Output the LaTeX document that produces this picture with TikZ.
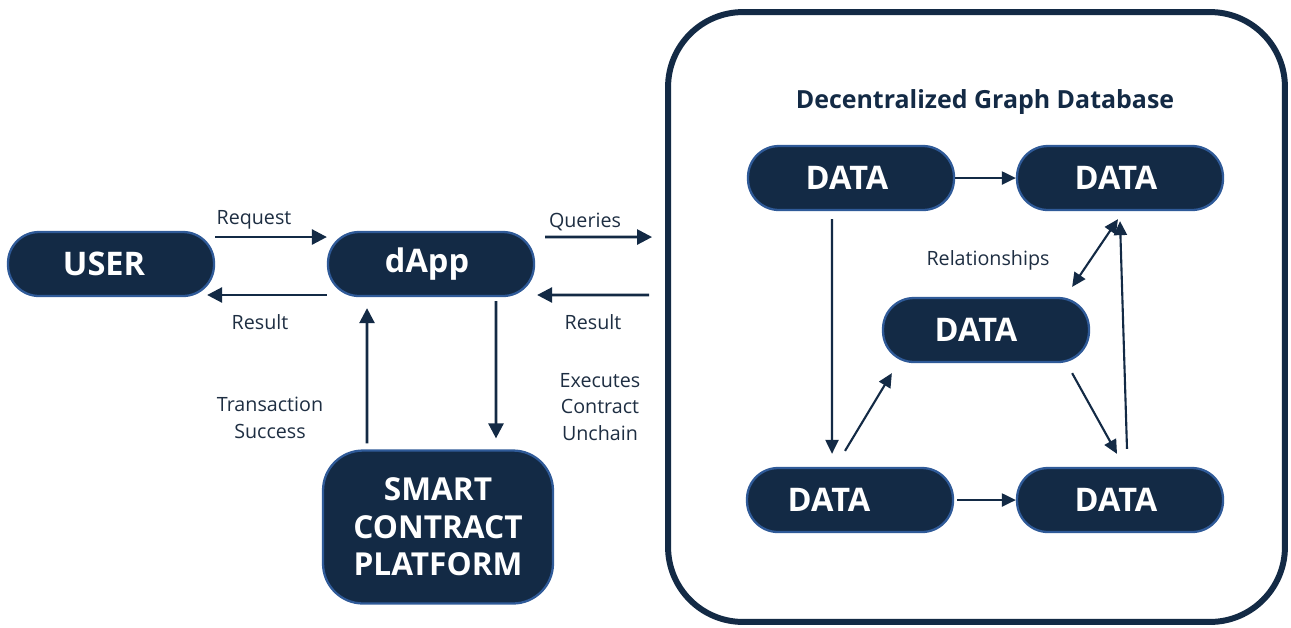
\documentclass[tikz,border=0pt]{standalone}
\usepackage{fontspec}
\setmainfont{Open Sans}
\usetikzlibrary{arrows.meta}
\definecolor{navy}{HTML}{132A45}
\definecolor{rim}{HTML}{2F5A98}
\definecolor{ink}{HTML}{1E2E42}
\begin{document}
\begin{tikzpicture}[x=0.02cm,y=-0.02cm,
    pill/.style={draw=rim,fill=navy,line width=1.3pt,rounded corners=0.62cm,
        minimum width=4.12cm,minimum height=1.28cm,text=white,
        font=\fontsize{18.5}{22}\selectfont\bfseries},
    lbl/.style={text=ink,font=\fontsize{11.2}{15}\selectfont,align=center},
    flow/.style={draw=navy,line width=1.5pt,-{Triangle[length=0.3cm,width=0.3cm]}},
    link/.style={draw=navy,line width=1.2pt,-{Triangle[length=0.28cm,width=0.26cm]}}]
    \useasboundingbox (0,0) rectangle (1291,627);
    % left part
    \node[pill] (user) at (111,264) {USER\kern0.28cm};
    \node[pill] (dapp) at (431,264) {dApp\kern0.16cm};
    \node[pill,minimum width=4.6cm,minimum height=3.06cm,rounded corners=0.8cm,
        align=center,font=\fontsize{18}{21.3}\selectfont\bfseries] (smart) at (438,527)
        {SMART\\CONTRACT\\PLATFORM};
    % database frame
    \node[draw=navy,fill=white,line width=3.4pt,rounded corners=1.5cm,
        minimum width=12.34cm,minimum height=12.2cm] (gdb) at (976.5,317) {};
    \node[text=navy,font=\fontsize{14.2}{17}\selectfont\bfseries] (title) at (985,102)
        {Decentralized Graph Database};
    \node[pill] (d1) at (851,178) {DATA\kern0.16cm};
    \node[pill] (d2) at (1120,178) {DATA\kern0.16cm};
    \node[pill] (d3) at (986,330) {DATA\kern0.4cm};
    \node[pill] (d4) at (850,500) {DATA\kern0.84cm};
    \node[pill] (d5) at (1120,500) {DATA\kern0.16cm};
    % labels
    \node[lbl] (req) at (254,220) {Request};
    \node[lbl] (res1) at (260,322) {Result};
    \node[lbl] (qry) at (585,222) {Queries};
    \node[lbl] (res2) at (593,322) {Result};
    \node[lbl] (trans) at (270,418) {Transaction\\Success};
    \node[lbl] (exec) at (600,407) {Executes\\Contract\\Unchain};
    \node[lbl] (rel) at (988,260) {Relationships};
    % arrows
    \draw[flow] ([yshift=0.54cm]user.east) -- ([yshift=0.54cm]dapp.west);
    \draw[flow] ([yshift=-0.62cm]dapp.west) -- ([xshift=-0.16cm,yshift=-0.62cm]user.east);
    \draw[flow] ([xshift=0.2cm,yshift=0.54cm]dapp.east) -- ([xshift=-0.26cm,yshift=1.6cm]gdb.west);
    \draw[flow] ([xshift=-0.32cm,yshift=0.44cm]gdb.west) -- ([xshift=0.04cm,yshift=-0.62cm]dapp.east);
    \draw[flow] ([xshift=-1.42cm,yshift=0.12cm]smart.north) -- ([xshift=-1.28cm,yshift=-0.22cm]dapp.south);
    \draw[flow] ([xshift=1.3cm,yshift=-0.08cm]dapp.south) -- ([xshift=1.16cm,yshift=0.22cm]smart.north);
    \draw[link] (d1.east) -- (d2.west);
    \draw[link] ([xshift=-0.38cm,yshift=-0.16cm]d1.south) -- ([xshift=-0.36cm,yshift=0.26cm]d4.north);
    \draw[link] ([xshift=-0.1cm,yshift=0.32cm]d4.north) -- ([xshift=0.2cm,yshift=-0.2cm]d3.south west);
    \draw[link,{Triangle[length=0.28cm,width=0.26cm]}-{Triangle[length=0.28cm,width=0.26cm]}]
        ([xshift=-0.36cm,yshift=0.2cm]d3.north east) -- ([xshift=-0.04cm,yshift=-0.16cm]d2.south);
    \draw[link] ([xshift=-0.36cm,yshift=-0.2cm]d3.south east) -- ([xshift=-0.06cm,yshift=0.26cm]d5.north);
    \draw[link] ([xshift=0.14cm,yshift=0.36cm]d5.north) -- ([xshift=0.0cm,yshift=-0.2cm]d2.south);
    \draw[link] ([xshift=0.06cm]d4.east) -- (d5.west);
\end{tikzpicture}
\end{document}
